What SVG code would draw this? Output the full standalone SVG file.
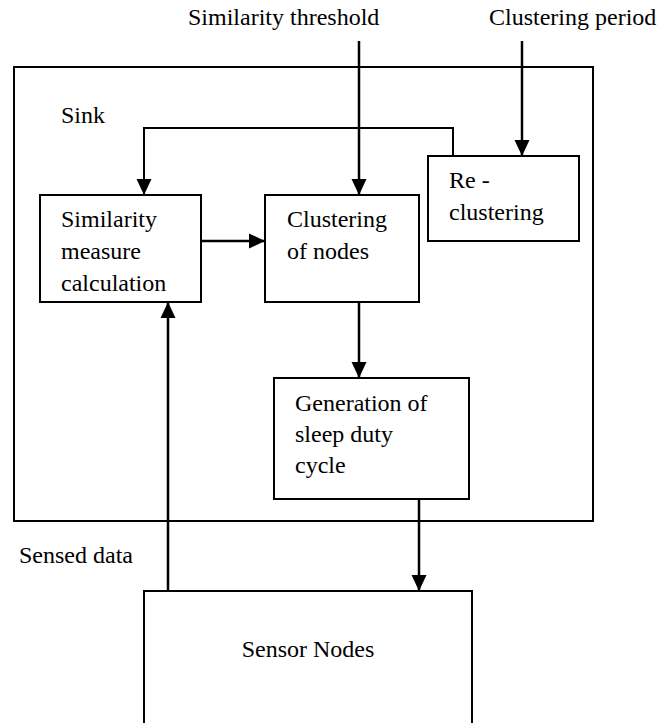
<svg xmlns="http://www.w3.org/2000/svg" width="670" height="723" viewBox="0 0 670 723">
<style>
.box{fill:#fff;stroke:#000;stroke-width:2}
.frame{fill:none;stroke:#000;stroke-width:2}
.c{fill:none;stroke:#000;stroke-width:2.5}
.f{fill:none;stroke:#000;stroke-width:2}
</style>
<defs>
<marker id="ah" markerUnits="userSpaceOnUse" markerWidth="16" markerHeight="16" refX="16" refY="7.5" orient="auto" viewBox="0 0 16 15">
<path d="M0,0 L16,7.5 L0,15 z" fill="#000"/>
</marker>
</defs>
<rect x="0" y="0" width="670" height="723" fill="#fff"/>
<g font-family="Liberation Serif, serif" font-size="24" fill="#000">
<g id="labels">
<text x="188" y="25">Similarity threshold</text>
<text x="489" y="25">Clustering period</text>
<text x="19" y="563">Sensed data</text>
</g>
<g id="sink">
<rect class="frame" x="14" y="67" width="579" height="454"/>
<text x="61" y="123">Sink</text>
</g>
<g id="similarity">
<rect class="box" x="40" y="195" width="161" height="107"/>
<text x="61" y="227">Similarity</text>
<text x="61" y="259">measure</text>
<text x="61" y="291">calculation</text>
</g>
<g id="clustering">
<rect class="box" x="265" y="195" width="154" height="107"/>
<text x="287" y="227">Clustering</text>
<text x="287" y="259">of nodes</text>
</g>
<g id="reclustering">
<rect class="box" x="428" y="156" width="151" height="85"/>
<text x="449" y="188">Re -</text>
<text x="449" y="220">clustering</text>
</g>
<g id="generation">
<rect class="box" x="274" y="378" width="195" height="121"/>
<text x="295" y="411">Generation of</text>
<text x="295" y="442">sleep duty</text>
<text x="295" y="473">cycle</text>
</g>
<g id="sensor">
<rect class="box" x="144" y="591" width="328" height="200"/>
<text x="308" y="657" text-anchor="middle">Sensor Nodes</text>
</g>
</g>
<g id="connectors">
<path class="c" d="M359,41 V195" marker-end="url(#ah)"/>
<path class="c" d="M522,41 V156" marker-end="url(#ah)"/>
<path class="f" d="M453,156 V128 H144 V195" marker-end="url(#ah)"/>
<path class="c" d="M201,241 H265" marker-end="url(#ah)"/>
<path class="c" d="M359,302 V378" marker-end="url(#ah)"/>
<path class="c" d="M419,499 V591" marker-end="url(#ah)"/>
<path class="c" d="M168,591 V302" marker-end="url(#ah)"/>
</g>
</svg>
